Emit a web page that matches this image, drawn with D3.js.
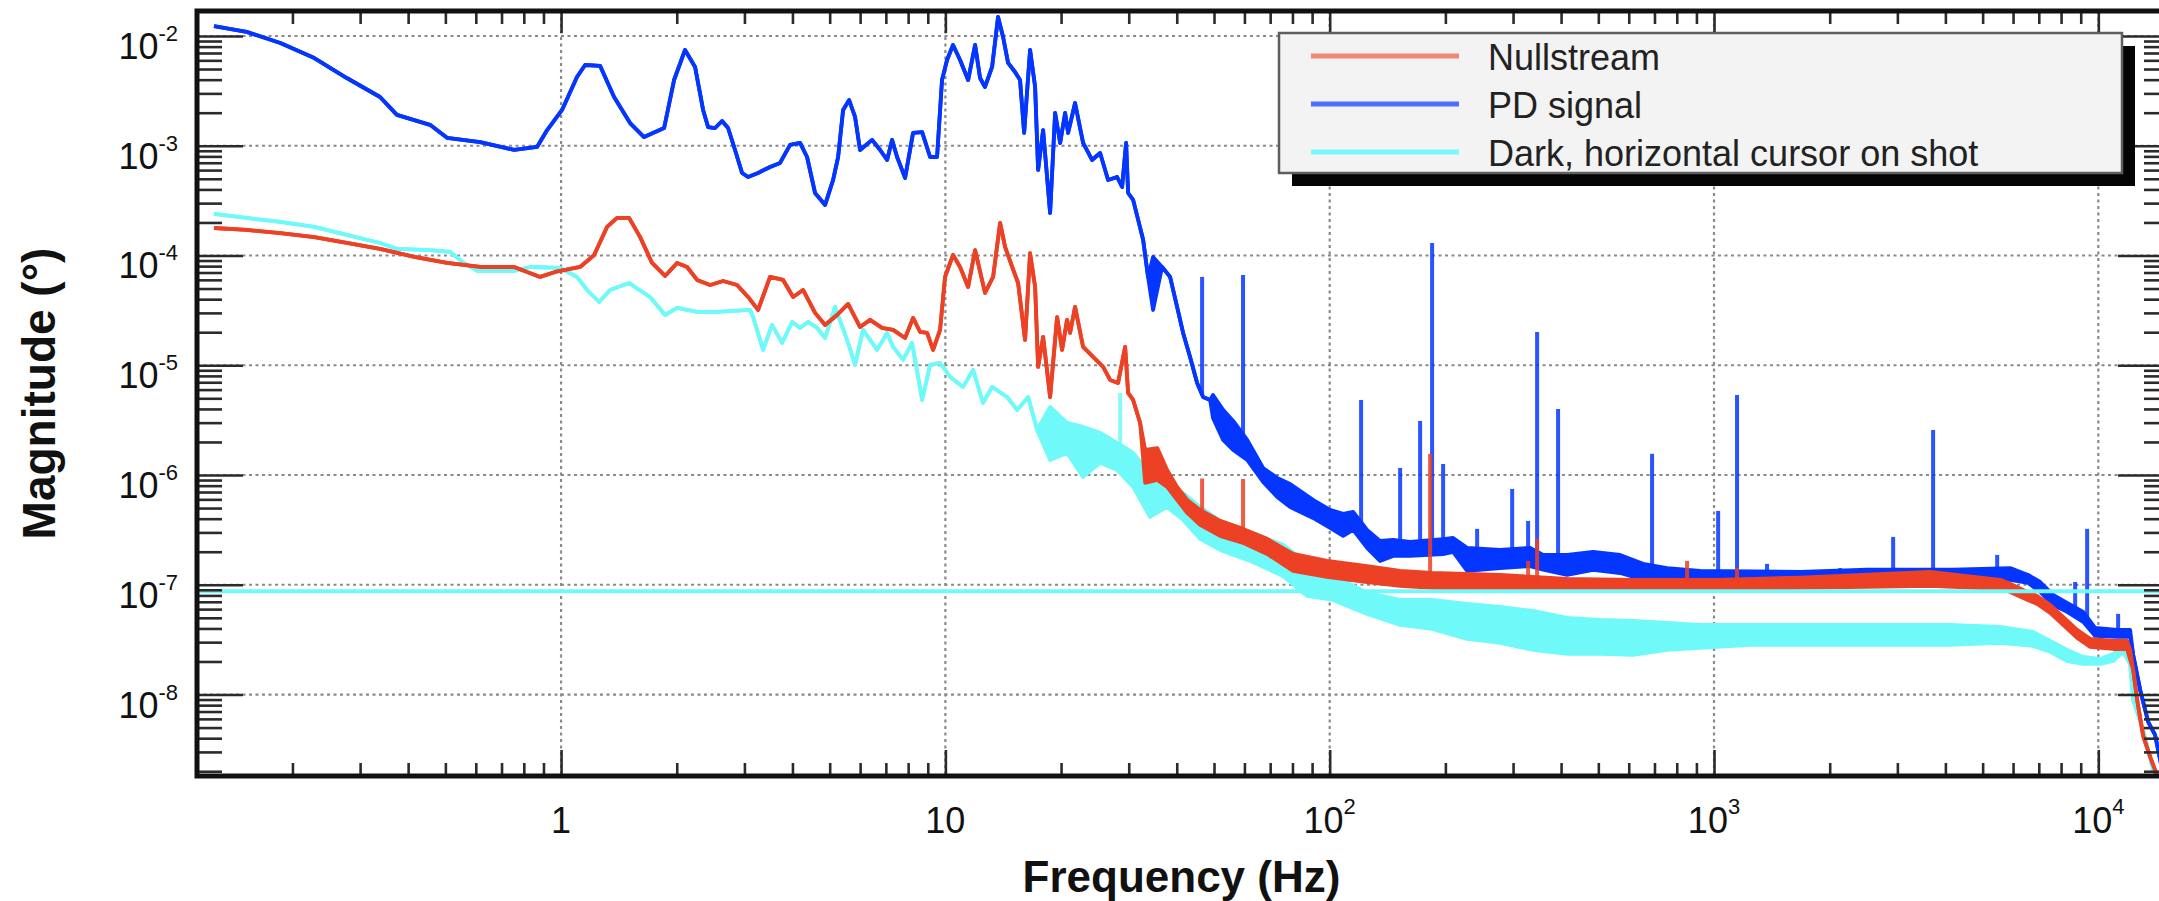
<!DOCTYPE html>
<html>
<head>
<meta charset="utf-8">
<script src="https://cdn.jsdelivr.net/npm/d3@7"></script>
<style>
  html, body { margin: 0; padding: 0; background: #ffffff; }
  svg { display: block; }
  text { font-family: "Liberation Sans", Arial, Helvetica, sans-serif; }
</style>
</head>
<body>
<svg id="chart" width="2159" height="901"></svg>
<script>
// ---- axis ranges and tick labels ----
const freqDomain = [0.1129, 15000];          // Hz
const magDomain = [1.81e-9, 0.01689];        // degrees
const xMajorTicks = [1, 10, 100, 1000, 10000];
const xTickLabels = [["1", ""], ["10", ""], ["10", "2"], ["10", "3"], ["10", "4"]];
const yMajorTicks = [1e-2, 1e-3, 1e-4, 1e-5, 1e-6, 1e-7, 1e-8];
const yTickLabels = [["10", "-2"], ["10", "-3"], ["10", "-4"], ["10", "-5"], ["10", "-6"], ["10", "-7"], ["10", "-8"]];
const seriesNames = ["Nullstream", "PD signal", "Dark, horizontal cursor on shot"];
const xTitle = "Frequency (Hz)";
const yTitle = "Magnitude (\u00B0)";

// horizontal cursor level (degrees)
const cursorLevel = 8.75e-8;

// ---- spectra: [frequency Hz, magnitude] or [frequency Hz, band low, band high] ----
const pdSignal = [
  [0.125, 1.23e-2], [0.152, 1.09e-2], [0.186, 8.63e-3], [0.228, 6.30e-3], [0.277, 4.14e-3],
  [0.338, 2.78e-3], [0.374, 1.91e-3], [0.456, 1.55e-3], [0.505, 1.18e-3], [0.616, 1.08e-3],
  [0.755, 9.15e-4], [0.866, 9.75e-4], [0.920, 1.39e-3], [1.006, 2.12e-3], [1.10, 4.23e-3],
  [1.155, 5.44e-3], [1.264, 5.33e-3], [1.374, 2.78e-3], [1.512, 1.61e-3], [1.644, 1.20e-3],
  [1.854, 1.45e-3], [1.968, 3.97e-3], [2.102, 7.46e-3], [2.232, 5.22e-3], [2.342, 2.12e-3],
  [2.413, 1.48e-3], [2.516, 1.45e-3], [2.624, 1.68e-3], [2.720, 1.45e-3], [2.836, 9.15e-4],
  [2.958, 5.65e-4], [3.066, 5.19e-4], [3.255, 5.65e-4], [3.498, 6.41e-4], [3.714, 6.97e-4],
  [3.944, 1.02e-3], [4.187, 1.06e-3], [4.366, 7.90e-4], [4.581, 3.71e-4], [4.864, 2.89e-4],
  [5.104, 4.88e-4], [5.259, 7.90e-4], [5.419, 2.12e-3], [5.617, 2.61e-3], [5.821, 1.83e-3],
  [5.998, 9.15e-4], [6.447, 1.13e-3], [6.763, 9.15e-4], [7.053, 7.42e-4], [7.267, 1.13e-3],
  [7.488, 7.90e-4], [7.855, 5.09e-4], [8.241, 1.31e-3], [8.70, 1.33e-3], [9.125, 7.90e-4],
  [9.515, 7.90e-4], [9.80, 3.97e-3], [10.10, 6.05e-3], [10.47, 8.28e-3], [10.92, 6.05e-3],
  [11.46, 3.97e-3], [11.95, 8.28e-3], [12.31, 4.14e-3], [12.68, 3.43e-3], [13.23, 5.22e-3],
  [13.71, 1.49e-2], [14.13, 9.79e-3], [14.56, 5.68e-3], [15.18, 4.70e-3], [15.64, 3.97e-3],
  [16.03, 1.31e-3], [16.61, 7.46e-3], [17.12, 3.43e-3], [17.43, 6.02e-4], [17.96, 1.39e-3],
  [18.73, 2.44e-4], [19.30, 1.99e-3], [19.89, 1.06e-3], [20.49, 1.99e-3], [20.86, 1.31e-3],
  [21.75, 2.45e-3], [22.82, 1.06e-3], [24.08, 7.42e-4], [25.27, 8.59e-4], [26.51, 4.88e-4],
  [27.98, 5.19e-4], [28.83, 4.21e-4], [29.53, 1.06e-3], [29.89, 3.71e-4], [30.80, 3.21e-4],
  [31.74, 2.11e-4], [32.70, 1.39e-4], [33.68, 6.38e-5], [34.71, 3.19e-5, 9.70e-5], [36.64, 7.86e-5],
  [38.43, 6.38e-5], [40.08, 3.40e-5], [41.55, 1.97e-5], [43.32, 1.19e-5], [45.19, 6.90e-6],
  [46.84, 5.14e-6], [48.85, 4.83e-6],
  [49.7, 3.31e-6, 5.36e-6], [52.8, 2.09e-6, 3.92e-6], [56.1, 1.69e-6, 3.11e-6], [61.0, 1.37e-6, 2.09e-6],
  [67.1, 8.65e-7, 1.16e-6], [73.0, 6.32e-7, 9.41e-7], [78.9, 5.12e-7, 8.29e-7], [90.5, 4.06e-7, 5.93e-7],
  [100.2, 3.30e-7, 4.81e-7], [108.4, 2.79e-7, 4.42e-7], [115.1, 3.16e-7, 4.61e-7], [125.1, 2.17e-7, 3.16e-7],
  [135.2, 1.65e-7, 2.51e-7], [146.2, 1.83e-7, 2.56e-7], [161.9, 1.83e-7, 2.46e-7], [197.3, 1.90e-7, 2.60e-7],
  [209.5, 1.99e-7, 2.67e-7], [227.8, 1.34e-7, 2.17e-7], [277.6, 1.42e-7, 2.08e-7], [332.3, 1.48e-7, 2.17e-7],
  [359.2, 1.37e-7, 1.87e-7], [414.8, 1.23e-7, 1.87e-7], [484.7, 1.37e-7, 1.99e-7], [569.8, 1.28e-7, 1.87e-7],
  [653.8, 1.11e-7, 1.55e-7], [755, 1.11e-7, 1.42e-7], [920, 1.11e-7, 1.34e-7], [1675, 1.06e-7, 1.31e-7],
  [2503, 1.11e-7, 1.37e-7], [4190, 1.11e-7, 1.37e-7], [5897, 1.11e-7, 1.42e-7], [6569, 1.04e-7, 1.23e-7],
  [7058, 8.61e-8, 1.06e-7], [7629, 6.55e-8, 8.08e-8], [8294, 5.66e-8, 6.83e-8], [9131, 4.59e-8, 5.66e-8],
  [9811, 3.42e-8, 4.05e-8], [11190, 3.35e-8, 3.88e-8], [12100, 3.35e-8, 3.88e-8],
  [12320, 2.30e-8], [12850, 1.10e-8], [13480, 5.63e-9], [14050, 4.29e-9], [14660, 2.06e-9]
];
// narrow lines: [frequency Hz, base, peak]
const pdSpikes = [
  [46.56, 5.5e-6, 6.38e-5], [59.5, 2.0e-6, 6.65e-5], [120.7, 3.5e-7, 4.83e-6], [152.5, 2.2e-7, 1.16e-6],
  [171.9, 2.2e-7, 3.11e-6], [184.7, 2.2e-7, 1.30e-4], [197.3, 2.2e-7, 1.26e-6], [241.9, 1.8e-7, 3.23e-7],
  [298.4, 1.8e-7, 7.47e-7], [328.3, 1.8e-7, 3.82e-7], [346.5, 1.8e-7, 2.01e-5], [392.9, 1.6e-7, 4.00e-6],
  [690, 1.3e-7, 1.56e-6], [1025, 1.2e-7, 4.71e-7], [1148, 1.2e-7, 5.36e-6], [1374, 1.2e-7, 1.55e-7],
  [2129, 1.2e-7, 1.42e-7], [2925, 1.2e-7, 2.73e-7], [3716, 1.2e-7, 2.57e-6], [5455, 1.2e-7, 1.87e-7],
  [8703, 6.0e-8, 1.06e-7], [9352, 5.0e-8, 3.23e-7], [11260, 3.6e-8, 5.43e-8]
];

const nullstream = [
  [0.125, 1.78e-4], [0.152, 1.71e-4], [0.186, 1.60e-4], [0.228, 1.47e-4], [0.277, 1.30e-4],
  [0.338, 1.15e-4], [0.415, 9.70e-5], [0.505, 8.55e-5], [0.616, 7.86e-5], [0.755, 7.86e-5],
  [0.882, 6.38e-5], [0.965, 7.08e-5], [1.121, 7.86e-5], [1.219, 1.01e-4], [1.317, 1.82e-4],
  [1.399, 2.20e-4], [1.503, 2.20e-4], [1.606, 1.47e-4], [1.725, 8.55e-5], [1.865, 6.51e-5],
  [2.004, 8.55e-5], [2.128, 7.86e-5], [2.259, 5.99e-5], [2.442, 5.39e-5], [2.640, 5.86e-5],
  [2.871, 5.39e-5], [3.066, 4.19e-5], [3.255, 3.19e-5], [3.498, 6.38e-5], [3.782, 5.99e-5],
  [4.016, 4.19e-5], [4.263, 4.85e-5], [4.581, 3.00e-5], [4.864, 2.33e-5], [5.226, 2.87e-5],
  [5.583, 3.62e-5], [5.998, 2.23e-5], [6.369, 2.59e-5], [6.844, 2.19e-5], [7.311, 2.10e-5],
  [7.855, 1.77e-5], [8.241, 2.70e-5], [8.596, 2.01e-5], [8.964, 1.97e-5], [9.29, 1.38e-5],
  [9.687, 2.10e-5], [9.98, 6.38e-5], [10.47, 1.01e-4], [10.92, 7.86e-5], [11.46, 5.17e-5],
  [11.95, 1.12e-4], [12.68, 4.56e-5], [13.31, 6.38e-5], [13.88, 1.98e-4], [14.30, 1.20e-4],
  [14.92, 7.86e-5], [15.46, 5.62e-5], [16.12, 1.70e-5], [16.61, 1.05e-4], [17.12, 5.17e-5],
  [17.43, 9.65e-6], [17.96, 1.81e-5], [18.73, 5.14e-6], [19.53, 2.75e-5], [20.12, 1.38e-5],
  [20.73, 2.59e-5], [21.11, 1.97e-5], [21.75, 3.40e-5], [22.82, 1.47e-5], [24.23, 1.19e-5],
  [25.73, 9.65e-6], [26.83, 7.35e-6], [28.14, 6.90e-6], [29.36, 1.47e-5], [29.89, 5.59e-6],
  [30.80, 4.83e-6], [32.12, 2.98e-6],
  [33.1, 8.47e-7, 1.69e-6], [35.6, 9.02e-7, 1.76e-6], [37.75, 7.79e-7, 1.11e-6], [40.08, 5.93e-7, 7.79e-7],
  [42.6, 4.51e-7, 5.93e-7], [46.0, 3.51e-7, 4.81e-7], [51.86, 2.79e-7, 3.82e-7], [59.5, 2.41e-7, 3.23e-7],
  [68.7, 1.91e-7, 2.62e-7], [80.3, 1.34e-7, 1.91e-7], [98.4, 1.18e-7, 1.65e-7], [125.1, 1.06e-7, 1.48e-7],
  [152.5, 9.76e-8, 1.34e-7], [184.7, 9.36e-8, 1.28e-7], [277.6, 9.17e-8, 1.23e-7], [414.8, 9.17e-8, 1.13e-7],
  [615.9, 9.17e-8, 1.11e-7], [1019, 9.17e-8, 1.11e-7], [1675, 9.36e-8, 1.16e-7], [3650, 9.76e-8, 1.31e-7],
  [5555, 9.17e-8, 1.11e-7], [5897, 8.61e-8, 1.02e-7], [6375, 7.59e-8, 8.98e-8], [6932, 6.69e-8, 7.91e-8],
  [7493, 5.54e-8, 6.55e-8], [8098, 4.31e-8, 5.09e-8], [8808, 3.28e-8, 3.88e-8], [9522, 2.72e-8, 3.21e-8],
  [10930, 2.60e-8, 3.08e-8], [11880, 2.60e-8, 3.08e-8], [12100, 2.07e-8, 2.55e-8],
  [12320, 1.68e-8], [12620, 8.93e-9], [13080, 4.20e-9], [13640, 2.70e-9], [14050, 2.06e-9], [14480, 1.50e-9]
];
const nullSpikes = [
  [46.56, 4.2e-7, 9.3e-7], [59.5, 3.0e-7, 9.21e-7], [182.5, 1.1e-7, 1.56e-6], [328.3, 1.0e-7, 1.65e-7],
  [346.5, 1.0e-7, 2.62e-7], [851, 1.0e-7, 1.65e-7], [1148, 1.0e-7, 1.42e-7]
];

const darkShot = [
  [0.125, 2.39e-4], [0.152, 2.20e-4], [0.186, 2.02e-4], [0.228, 1.82e-4], [0.277, 1.54e-4],
  [0.338, 1.30e-4], [0.374, 1.15e-4], [0.456, 1.12e-4], [0.514, 1.08e-4], [0.559, 8.55e-5],
  [0.605, 7.23e-5], [0.755, 7.23e-5], [0.831, 7.86e-5], [0.994, 7.70e-5], [1.10, 6.38e-5],
  [1.169, 4.85e-5], [1.256, 3.77e-5], [1.341, 4.85e-5], [1.503, 5.62e-5], [1.704, 4.19e-5],
  [1.865, 2.87e-5], [2.004, 3.33e-5], [2.259, 3.06e-5], [2.546, 3.06e-5], [3.104, 3.19e-5],
  [3.160, 2.75e-5], [3.355, 1.38e-5], [3.540, 2.33e-5], [3.759, 1.60e-5], [3.992, 2.48e-5],
  [4.187, 2.19e-5], [4.392, 2.48e-5], [4.636, 2.19e-5], [4.864, 1.77e-5], [5.164, 3.40e-5],
  [5.549, 1.70e-5], [5.821, 1.01e-5], [6.107, 2.10e-5], [6.642, 1.38e-5], [7.053, 1.97e-5],
  [7.311, 1.47e-5], [7.762, 1.12e-5], [8.19, 1.60e-5], [8.70, 4.83e-6], [9.125, 1.01e-5],
  [9.687, 1.05e-5], [10.29, 7.83e-6], [11.12, 6.35e-6], [11.81, 9.06e-6], [12.53, 4.53e-6],
  [13.23, 6.35e-6], [14.47, 5.14e-6], [15.37, 3.92e-6], [16.42, 5.14e-6], [17.32, 2.57e-6],
  [18.73, 1.37e-6, 4.17e-6], [20.73, 1.59e-6, 2.98e-6], [22.82, 9.61e-7, 2.74e-6], [25.27, 1.29e-6, 2.42e-6],
  [27.98, 1.11e-6, 1.96e-6], [30.80, 7.79e-7, 1.59e-6], [34.09, 4.15e-7, 1.04e-6], [37.75, 5.12e-7, 7.79e-7],
  [41.55, 3.90e-7, 6.87e-7], [46.0, 2.62e-7, 5.12e-7], [51.86, 2.08e-7, 3.82e-7], [62.1, 1.65e-7, 3.03e-7],
  [75.6, 1.20e-7, 2.31e-7], [87.4, 7.91e-8, 1.58e-7], [102, 7.28e-8, 1.23e-7], [125.1, 5.43e-8, 8.43e-8],
  [152.5, 4.31e-8, 7.28e-8], [184.7, 3.96e-8, 7.28e-8], [227.8, 3.21e-8, 6.69e-8], [277.6, 2.95e-8, 6.28e-8],
  [338, 2.55e-8, 5.78e-8], [414.8, 2.35e-8, 4.99e-8], [505, 2.35e-8, 4.78e-8], [615.9, 2.30e-8, 4.69e-8],
  [755, 2.55e-8, 4.49e-8], [920, 2.66e-8, 4.31e-8], [1241, 2.83e-8, 4.31e-8], [1675, 2.83e-8, 4.31e-8],
  [2261, 2.83e-8, 4.31e-8], [3050, 2.83e-8, 4.31e-8], [4116, 2.83e-8, 4.31e-8], [5555, 2.95e-8, 4.13e-8],
  [6768, 2.77e-8, 3.72e-8], [7493, 2.45e-8, 3.08e-8], [8294, 2.02e-8, 2.55e-8], [9131, 1.90e-8, 2.20e-8],
  [10110, 1.90e-8, 2.11e-8], [10930, 2.02e-8, 2.35e-8], [11600, 2.45e-8, 2.66e-8],
  [12100, 1.90e-8], [12320, 8.93e-9], [13080, 4.76e-9], [13890, 2.06e-9], [14480, 1.50e-9]
];
const darkSpikes = [
  [28.5, 1.3e-6, 5.59e-6]
];

// ---- drawing ----
const colors = { nullstream: "#ec4124", pd: "#0536ff", dark: "#70f9f9" };
const svg = d3.select("#chart");
const plot = { left: 197, right: 2166, top: 11, bottom: 776 };

const x = d3.scaleLog().domain(freqDomain).range([plot.left, plot.right]);
const y = d3.scaleLog().domain(magDomain).range([plot.bottom, plot.top]);

svg.append("defs").append("clipPath").attr("id", "plot-clip")
  .append("rect")
  .attr("x", plot.left).attr("y", plot.top)
  .attr("width", plot.right - plot.left).attr("height", plot.bottom - plot.top);

// dotted decade grid
const grid = svg.append("g").attr("stroke", "#8a8a8a").attr("stroke-width", 2.2).attr("stroke-dasharray", "3,3.5");
grid.selectAll("line.gx").data(xMajorTicks).join("line")
  .attr("x1", d => x(d)).attr("x2", d => x(d))
  .attr("y1", plot.top).attr("y2", plot.bottom);
grid.selectAll("line.gy").data(yMajorTicks).join("line")
  .attr("x1", plot.left).attr("x2", plot.right)
  .attr("y1", d => y(d)).attr("y2", d => y(d));

// spectra
const plotArea = svg.append("g").attr("clip-path", "url(#plot-clip)");
const lowOf = d => d[1];
const highOf = d => (d.length > 2 ? d[2] : d[1]);

function drawSpectrum(data, spikes, color) {
  const g = plotArea.append("g");
  g.append("path").datum(data)
    .attr("d", d3.area().x(d => x(d[0])).y0(d => y(lowOf(d))).y1(d => y(highOf(d))))
    .attr("fill", color);
  [lowOf, highOf].forEach(acc => {
    g.append("path").datum(data)
      .attr("d", d3.line().x(d => x(d[0])).y(d => y(acc(d))))
      .attr("fill", "none").attr("stroke", color)
      .attr("stroke-width", 3.8).attr("stroke-linejoin", "round");
  });
  g.selectAll("line.spike").data(spikes).join("line")
    .attr("class", "spike")
    .attr("x1", d => x(d[0])).attr("x2", d => x(d[0]))
    .attr("y1", d => y(d[1])).attr("y2", d => y(d[2]))
    .attr("stroke", color).attr("stroke-width", 4).attr("stroke-opacity", 0.85);
}

drawSpectrum(pdSignal, pdSpikes, colors.pd);
drawSpectrum(darkShot, darkSpikes, colors.dark);
drawSpectrum(nullstream, nullSpikes, colors.nullstream);

// horizontal cursor
plotArea.append("line")
  .attr("x1", plot.left).attr("x2", plot.right)
  .attr("y1", y(cursorLevel)).attr("y2", y(cursorLevel))
  .attr("stroke", colors.dark).attr("stroke-width", 4);

// ticks on all four sides (inward)
const isDecade = v => Math.abs(Math.log10(v) - Math.round(Math.log10(v))) < 1e-9;
const xMinor = x.ticks().filter(v => !isDecade(v));
const yMinor = y.ticks().filter(v => !isDecade(v));

function tickSet(axis, transform, values, size) {
  const g = svg.append("g").attr("transform", transform)
    .call(axis.tickValues(values).tickSize(size).tickSizeOuter(0).tickFormat(() => ""));
  g.select(".domain").remove();
  g.selectAll(".tick text").remove();
  g.selectAll(".tick line").attr("stroke", "#2b2b2b").attr("stroke-width", 2.6);
}
tickSet(d3.axisTop(x), `translate(0,${plot.bottom})`, xMinor, 13);
tickSet(d3.axisTop(x), `translate(0,${plot.bottom})`, xMajorTicks, 26);
tickSet(d3.axisBottom(x), `translate(0,${plot.top})`, xMinor, 13);
tickSet(d3.axisBottom(x), `translate(0,${plot.top})`, xMajorTicks, 22);
tickSet(d3.axisRight(y), `translate(${plot.left},0)`, yMinor, 25);
tickSet(d3.axisRight(y), `translate(${plot.left},0)`, yMajorTicks, 46);
tickSet(d3.axisLeft(y), `translate(${plot.right},0)`, yMinor, 22);
tickSet(d3.axisLeft(y), `translate(${plot.right},0)`, yMajorTicks, 48);

// frame
svg.append("rect")
  .attr("x", plot.left).attr("y", plot.top)
  .attr("width", plot.right - plot.left).attr("height", plot.bottom - plot.top)
  .attr("fill", "none").attr("stroke", "#111").attr("stroke-width", 5);

// tick labels with superscript exponents
const xLabels = svg.append("g").attr("font-size", 36).attr("fill", "#111").attr("text-anchor", "middle");
xMajorTicks.forEach((v, i) => {
  const t = xLabels.append("text").attr("x", x(v)).attr("y", 833);
  t.append("tspan").text(xTickLabels[i][0]);
  if (xTickLabels[i][1]) t.append("tspan").attr("dy", -19).attr("font-size", 22).text(xTickLabels[i][1]);
});
const yLabels = svg.append("g").attr("font-size", 36).attr("fill", "#111").attr("text-anchor", "end");
yMajorTicks.forEach((v, i) => {
  const t = yLabels.append("text").attr("x", 178).attr("y", y(v) + 23);
  t.append("tspan").text(yTickLabels[i][0]);
  t.append("tspan").attr("dy", -18).attr("font-size", 22).text(yTickLabels[i][1]);
});

// axis titles
svg.append("text")
  .attr("x", (plot.left + plot.right) / 2).attr("y", 892)
  .attr("text-anchor", "middle").attr("font-size", 44).attr("font-weight", "bold").attr("fill", "#111")
  .text(xTitle);
svg.append("text")
  .attr("transform", `translate(55,${(plot.top + plot.bottom) / 2}) rotate(-90)`)
  .attr("text-anchor", "middle").attr("font-size", 46).attr("font-weight", "bold").attr("fill", "#111")
  .text(yTitle);

// legend
const legend = { x: 1279, y: 33, w: 843, h: 140 };
svg.append("rect")
  .attr("x", legend.x + 13).attr("y", legend.y + 13)
  .attr("width", legend.w).attr("height", legend.h)
  .attr("fill", "#050505");
svg.append("rect")
  .attr("x", legend.x).attr("y", legend.y)
  .attr("width", legend.w).attr("height", legend.h)
  .attr("fill", "#f3f3f3").attr("stroke", "#5e5e5e").attr("stroke-width", 2.5);
const legendColors = [colors.nullstream, colors.pd, colors.dark];
const legendOpacity = [0.6, 0.7, 0.95];
const rowY = [56, 104, 152];
seriesNames.forEach((name, i) => {
  svg.append("line")
    .attr("x1", 1311).attr("x2", 1459).attr("y1", rowY[i]).attr("y2", rowY[i])
    .attr("stroke", legendColors[i]).attr("stroke-width", 5).attr("stroke-opacity", legendOpacity[i]);
  svg.append("text")
    .attr("x", 1488).attr("y", rowY[i] + 14)
    .attr("font-size", 36).attr("fill", "#222")
    .text(name);
});
</script>
</body>
</html>
